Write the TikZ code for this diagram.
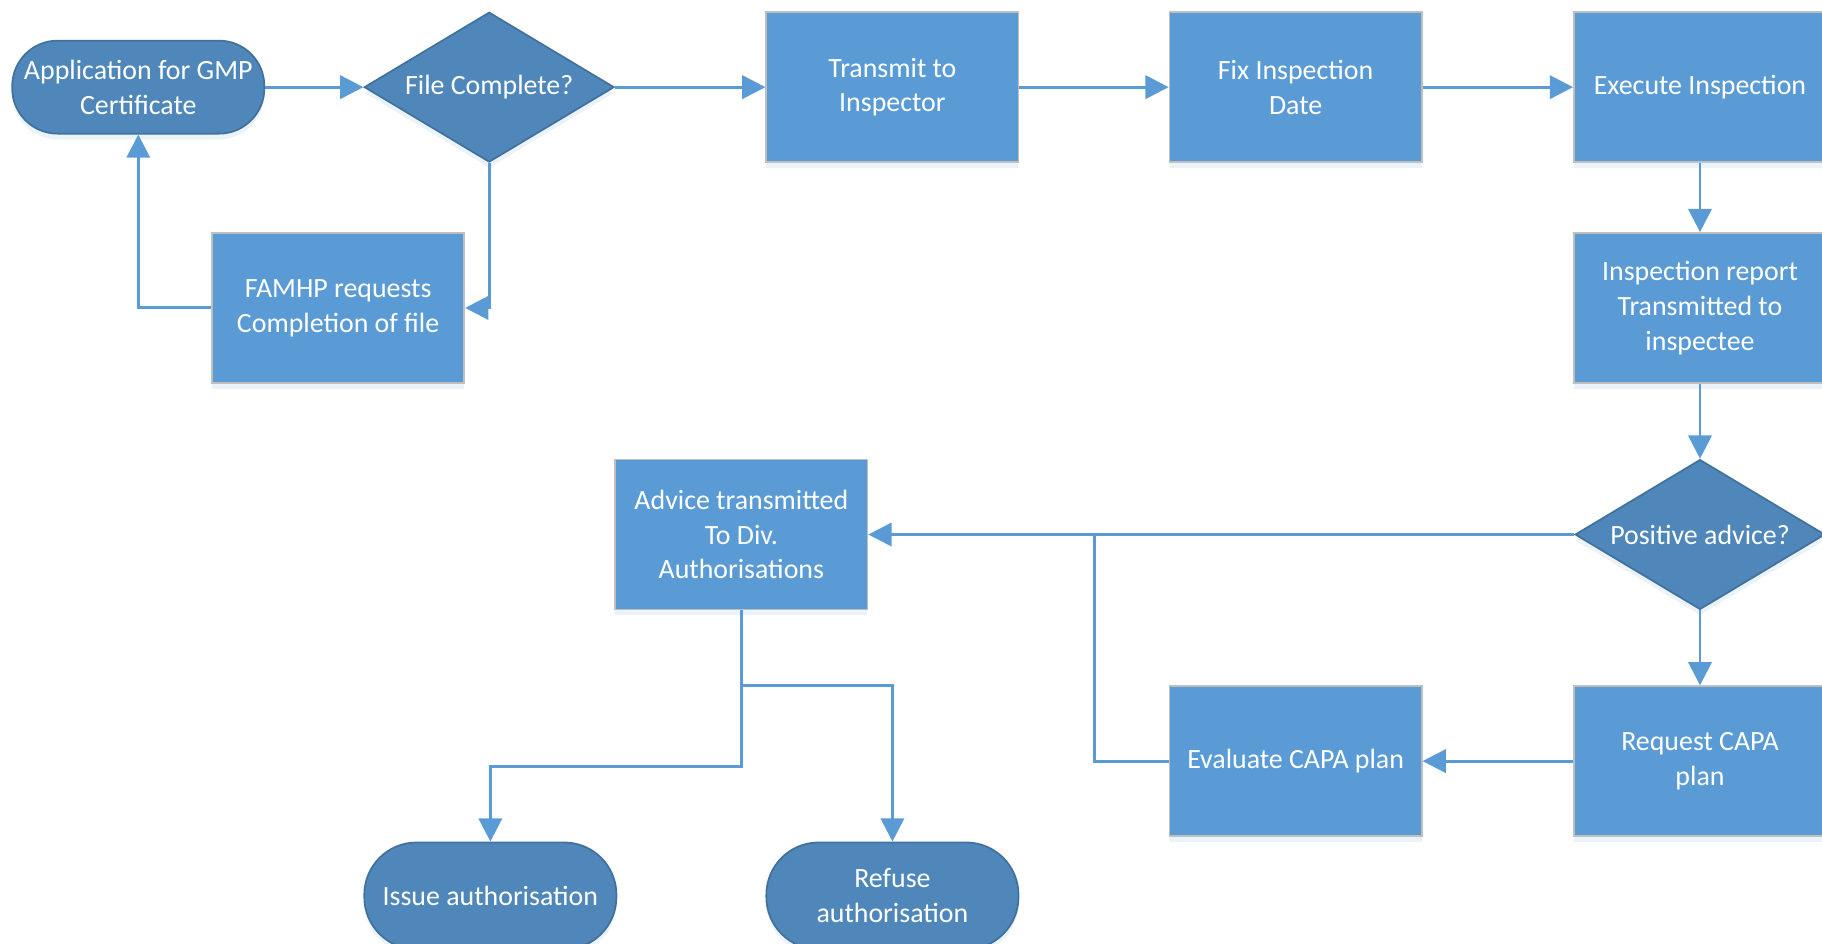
\documentclass[tikz,border=0pt]{standalone}
\usepackage{fontspec}
\setmainfont{Carlito}
\usetikzlibrary{shapes.geometric,arrows.meta,shadows}

\definecolor{boxblue}{HTML}{5B9BD5}
\definecolor{darkblue}{HTML}{4F87BA}
\definecolor{edgeblue}{HTML}{41719C}
\definecolor{boxgray}{HTML}{BFBFBF}

\begin{document}
\begin{tikzpicture}[x=1pt,y=-1pt,
    softshadow/.style={drop shadow={shadow xshift=0pt,shadow yshift=-5pt,opacity=0.18,fill=boxblue!70}},
    procbox/.style={rectangle,fill=boxblue,draw=boxgray,line width=1.5pt,minimum width=217pt,minimum height=129pt,inner sep=2pt,align=center,text=white,softshadow},
    decision/.style={diamond,shape aspect=1.67,fill=darkblue,draw=edgeblue,line width=1.5pt,minimum width=215pt,minimum height=129pt,inner sep=0pt,align=center,text=white,softshadow},
    terminal/.style={rectangle,rounded corners=39pt,fill=darkblue,draw=edgeblue,line width=1.5pt,minimum width=217pt,minimum height=80pt,align=center,text=white,softshadow},
    flow/.style={draw=boxblue,line width=2.5pt,-{Triangle[length=20pt,width=20pt]}},
    plainflow/.style={draw=boxblue,line width=2.5pt}]
    \fontsize{24}{30}\selectfont
    \useasboundingbox (0,0) rectangle (1568,812);

    % top row
    \node[terminal] (app) at (119,75) {Application for GMP\\Certificate};
    \node[decision] (fc) at (421,75) {File Complete?};
    \node[procbox] (tr) at (768,75) {Transmit to\\Inspector};
    \node[procbox] (fix) at (1115,75) {Fix Inspection\\Date};
    \node[procbox] (exe) at (1463,75) {Execute Inspection};

    \node[procbox] (famhp) at (291,265) {FAMHP requests\\Completion of file};
    \node[procbox] (rep) at (1463,265) {Inspection report\\Transmitted to\\inspectee};

    % middle row
    \node[decision] (pos) at (1463,460) {Positive advice?};
    \node[procbox] (adv) at (638,460) {Advice transmitted\\To Div.\\Authorisations};

    \node[procbox] (eval) at (1115,655) {Evaluate CAPA plan};
    \node[procbox] (req) at (1463,655) {Request CAPA\\plan};

    % end states
    \node[terminal,minimum height=92pt,rounded corners=45pt] (issue) at (422,771) {Issue authorisation};
    \node[terminal,minimum height=92pt,rounded corners=45pt] (refuse) at (768,771) {Refuse\\authorisation};

    \coordinate (merge) at (942,460);
    \coordinate (split) at (638,590);
    \coordinate (bend) at (638,660);

    \foreach \a/\b in {app/fc,fc/tr,tr/fix,fix/exe,exe/rep,rep/pos,pos/adv,req/eval}{
        \draw[flow] (\a) -- (\b);
    }
    \draw[flow] (pos.south) -- (req.north);
    \draw[flow] (fc.south) |- (famhp.east);
    \draw[flow] (famhp.west) -| (app.south);
    \draw[plainflow] (eval.west) -| (merge);
    \draw[flow] (adv.south) -- (split) -| (refuse.north);
    \draw[flow] (split) -- (bend) -| (issue.north);

\end{tikzpicture}
\end{document}
